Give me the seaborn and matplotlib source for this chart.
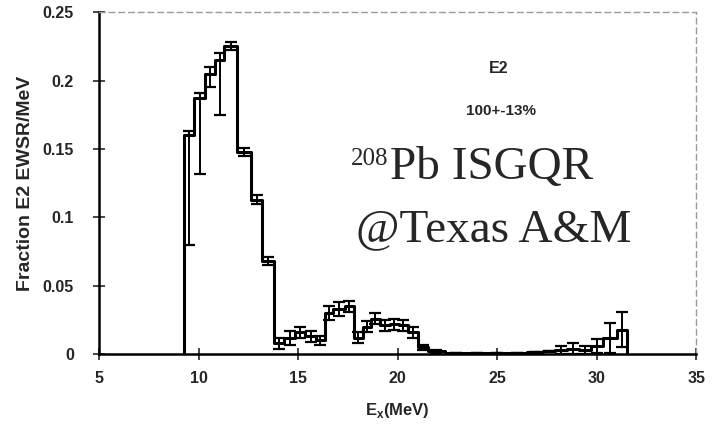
import numpy as np
import pandas as pd
import seaborn as sns
import matplotlib.pyplot as plt

# bin edges (MeV) and fraction of E2 EWSR per MeV
edges = [9.25, 9.75, 10.35, 10.85, 11.3, 11.95, 12.65, 13.2, 13.8, 14.3,
         14.85, 15.35, 15.9, 16.35, 16.75, 17.35, 17.8, 18.25, 18.65, 19.1,
         19.6, 20.05, 20.5, 21.0, 21.5, 22.4, 23.5, 24.5, 25.5, 26.5,
         27.3, 27.9, 28.5, 29.1, 29.7, 30.3, 31.0, 31.5]
values = [0.160, 0.187, 0.205, 0.215, 0.225, 0.148, 0.113, 0.068, 0.008, 0.012,
          0.016, 0.013, 0.010, 0.030, 0.033, 0.035, 0.012, 0.020, 0.026, 0.021,
          0.022, 0.021, 0.016, 0.005, 0.002, 0.001, 0.0008, 0.0008, 0.001, 0.0015,
          0.002, 0.003, 0.004, 0.003, 0.006, 0.012, 0.018]
err_low = [0.080, 0.055, 0.010, 0.040, 0.003, 0.003, 0.003, 0.003, 0.004, 0.005,
           0.004, 0.004, 0.003, 0.005, 0.005, 0.004, 0.004, 0.004, 0.004, 0.004,
           0.004, 0.004, 0.004, 0.002, 0.001, 0.0, 0.0, 0.0, 0.0, 0.0,
           0.0, 0.003, 0.004, 0.003, 0.005, 0.011, 0.013]
err_high = [0.003, 0.004, 0.005, 0.005, 0.003, 0.003, 0.003, 0.003, 0.004, 0.005,
            0.004, 0.004, 0.003, 0.005, 0.005, 0.004, 0.004, 0.004, 0.004, 0.004,
            0.004, 0.004, 0.004, 0.002, 0.001, 0.0, 0.0, 0.0, 0.0, 0.0,
            0.0, 0.003, 0.004, 0.003, 0.005, 0.011, 0.013]

x_ticks = [5, 10, 15, 20, 25, 30, 35]
y_ticks = [0, 0.05, 0.1, 0.15, 0.2, 0.25]
y_labels = ["0", "0.05", "0.1", "0.15", "0.2", "0.25"]

sns.set_theme(style="ticks")
plt.rcParams['font.family'] = ['Liberation Sans', 'DejaVu Sans']
plt.rcParams['mathtext.fontset'] = 'custom'
plt.rcParams['mathtext.rm'] = 'Liberation Serif'
plt.rcParams['mathtext.bf'] = 'Liberation Sans:bold'

# step outline: start and end on the baseline
step = pd.DataFrame({
    "E": [edges[0]] + edges,
    "frac": [0.0] + values + [0.0],
})
centers = [(a + b) / 2 for a, b in zip(edges[:-1], edges[1:])]
errdf = pd.DataFrame({"E": centers, "frac": values, "lo": err_low, "hi": err_high})

fig = plt.figure(figsize=(7.12, 4.34), dpi=100)
ax = fig.add_axes([0.139, 0.184, 0.839, 0.788])

sns.lineplot(data=step, x="E", y="frac", drawstyle="steps-post",
             estimator=None, sort=False, color="black", linewidth=2.2, ax=ax)
ax.errorbar(errdf["E"], errdf["frac"], yerr=[errdf["lo"], errdf["hi"]], fmt="none",
            ecolor="black", elinewidth=1.4, capsize=4, capthick=1.6)

ax.set_xlim(5, 35)
ax.set_ylim(0, 0.25)
ax.set_xticks(x_ticks)
ax.set_yticks(y_ticks)
ax.set_yticklabels(y_labels)
ax.tick_params(direction="inout", length=8, width=1.2, labelsize=11.5, pad=8)
ax.tick_params(axis="y", pad=14)
for lab in ax.get_xticklabels() + ax.get_yticklabels():
    lab.set_fontweight("bold")

ax.set_xlabel(r"E$_{\mathbf{x}}$(MeV)", fontsize=12, fontweight="bold", labelpad=11)
ax.set_ylabel("Fraction E2 EWSR/MeV", fontsize=14, fontweight="bold", labelpad=6)

for side in ["left", "bottom"]:
    ax.spines[side].set_linewidth(1.8)
    ax.spines[side].set_color("black")
for side in ["top", "right"]:
    ax.spines[side].set_visible(True)
    ax.spines[side].set_color("#9a9a9a")
    ax.spines[side].set_linestyle((0, (4, 3)))
    ax.spines[side].set_linewidth(1.0)

ax.text(25.05, 0.209, "E2", fontsize=11.5, fontweight="bold", ha="center", va="center")
ax.text(25.2, 0.178, "100+-13%", fontsize=11, fontweight="bold", ha="center", va="center")
main = ax.text(19.62, 0.136, "Pb ISGQR", fontsize=34, family="Liberation Serif",
               ha="left", va="center")
ax.annotate("208", xy=(0, 1), xycoords=main, xytext=(-1, -1), textcoords="offset points",
            fontsize=18, family="Liberation Serif", ha="right", va="top")
ax.text(17.9, 0.091, "@Texas A&M", fontsize=34, family="Liberation Serif",
        ha="left", va="center")

fig.savefig("out.png", dpi=100)
